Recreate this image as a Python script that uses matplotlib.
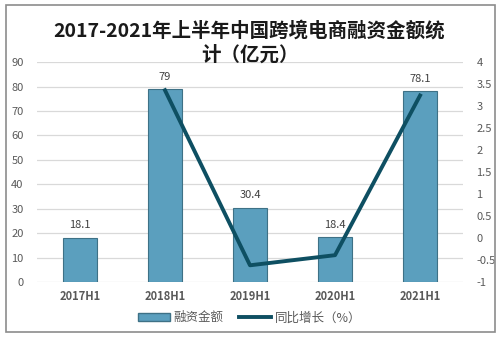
import matplotlib.pyplot as plt
from matplotlib.patches import Rectangle
from matplotlib.lines import Line2D

plt.rcParams['font.family'] = ['Noto Sans CJK SC', 'DejaVu Sans']

periods = ['2017H1', '2018H1', '2019H1', '2020H1', '2021H1']
amount = [18.1, 79, 30.4, 18.4, 78.1]
growth = [None, 3.36, -0.62, -0.39, 3.24]

bar_color = '#5b9fbe'
line_color = '#0e4f62'
tick_color = '#595959'

fig = plt.figure(figsize=(4.99, 3.41), dpi=100)
ax = fig.add_axes([0.075, 0.173, 0.852, 0.645])
ax2 = ax.twinx()

x = list(range(len(periods)))
bars = ax.bar(x, amount, width=0.41, color=bar_color, edgecolor='#3e7186',
              linewidth=0.8, zorder=2, label='融资金额')
for xi, v in zip(x, amount):
    ax.text(xi, v + 3, f'{v:g}', ha='center', va='bottom', fontsize=8,
            color='#404040')

gx = [xi for xi, g in zip(x, growth) if g is not None]
gy = [g for g in growth if g is not None]
ax2.plot(gx, gy, color=line_color, linewidth=2.8, zorder=3)

ax.set_xlim(-0.5, 4.5)
ax.set_ylim(0, 90)
ax.set_yticks(range(0, 91, 10))
ax2.set_ylim(-1, 4)
ax2.set_yticks([-1, -0.5, 0, 0.5, 1, 1.5, 2, 2.5, 3, 3.5, 4])
ax2.set_yticklabels(['-1', '-0.5', '0', '0.5', '1', '1.5', '2', '2.5', '3', '3.5', '4'])

ax.set_xticks(x)
ax.set_xticklabels(periods, fontweight='bold')
ax.grid(axis='y', color='#d9d9d9', linewidth=0.9, zorder=0)
ax.set_axisbelow(True)
for a in (ax, ax2):
    for s in a.spines.values():
        s.set_visible(False)
    a.tick_params(length=0, labelsize=8, colors=tick_color)
ax.tick_params(axis='y', pad=10)
ax2.tick_params(axis='y', pad=10)
ax.tick_params(axis='x', pad=6)

fig.suptitle('2017-2021年上半年中国跨境电商融资金额统\n计（亿元）', y=0.94,
             fontsize=14, fontweight='bold', color='#1a1a1a', linespacing=1.35)

handles = [Rectangle((0, 0), 1, 1, facecolor=bar_color, edgecolor='#3e7186'),
           Line2D([0], [0], color=line_color, linewidth=2.8)]
fig.legend(handles, ['融资金额', '同比增长（%）'], loc='center',
           bbox_to_anchor=(0.5, 0.068), ncol=2, frameon=False, fontsize=9,
           labelcolor=tick_color, handlelength=2.6, columnspacing=1.2,
           handletextpad=0.3)

fig.patches.append(Rectangle((0.012, 0.026), 0.98, 0.96, transform=fig.transFigure,
                             fill=False, edgecolor='#8c8c8c', linewidth=1.2))

fig.savefig('out.png', dpi=100)
